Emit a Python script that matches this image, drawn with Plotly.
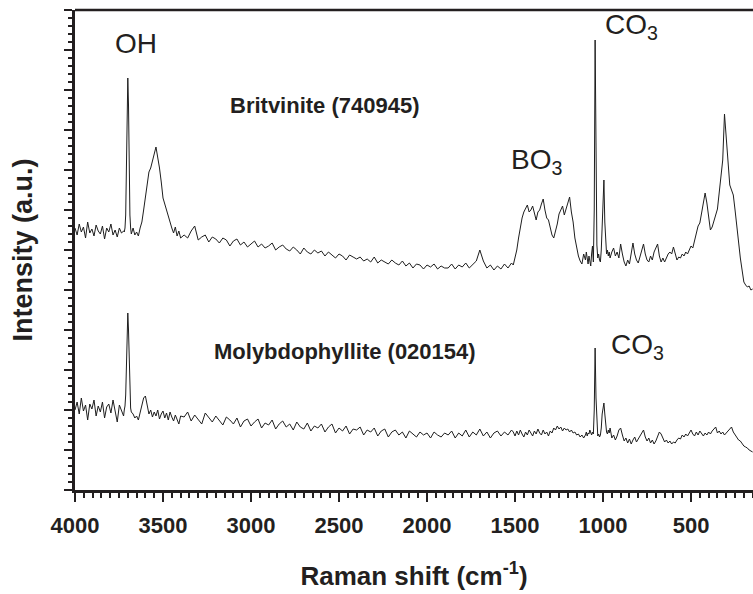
import plotly.graph_objects as go

# Raman shift (cm-1) sampling points shared by both spectra
WAVENUMBER = [
    4000, 3988, 3976, 3964, 3952, 3940, 3928, 3916, 3904, 3892, 3880, 3868,
    3856, 3844, 3832, 3820, 3808, 3796, 3784, 3772, 3760, 3748, 3736, 3724,
    3720, 3716, 3712, 3708, 3704, 3700, 3696, 3692, 3688, 3684, 3680,
    3670, 3660, 3650, 3640, 3630, 3620, 3610, 3600, 3590, 3580, 3570, 3560, 3550, 3540,
    3530, 3520, 3510, 3500, 3490, 3480, 3470, 3460, 3450, 3440, 3430, 3420, 3410, 3400,
    3380, 3360, 3340, 3320, 3300, 3280, 3260, 3240, 3220, 3200,
    3180, 3160, 3140, 3120, 3100, 3080, 3060, 3040, 3020, 3000,
    2980, 2960, 2940, 2920, 2900, 2880, 2860, 2840, 2820, 2800,
    2780, 2760, 2740, 2720, 2700, 2680, 2660, 2640, 2620, 2600,
    2580, 2560, 2540, 2520, 2500, 2480, 2460, 2440, 2420, 2400,
    2380, 2360, 2340, 2320, 2300, 2280, 2260, 2240, 2220, 2200,
    2180, 2160, 2140, 2120, 2100, 2080, 2060, 2040, 2020, 2000,
    1980, 1960, 1940, 1920, 1900,
    1880, 1860, 1840, 1820, 1800, 1780, 1760, 1740, 1720, 1700,
    1680, 1660, 1640, 1620, 1600, 1580, 1560, 1540, 1520,
    1510, 1500, 1490, 1480, 1470, 1460, 1450, 1440, 1430, 1420,
    1410, 1400, 1390, 1380, 1370, 1360, 1350, 1340, 1330, 1320,
    1310, 1300, 1290, 1280, 1270, 1260, 1250, 1240, 1230, 1220,
    1210, 1200, 1190, 1180, 1170, 1160, 1150, 1140, 1130, 1120,
    1110,
    1100, 1095, 1090, 1085, 1080, 1075, 1070, 1065, 1060, 1055,
    1050, 1045, 1040, 1035, 1030, 1025, 1020, 1015, 1010, 1005,
    1000, 995, 990, 985, 980, 975, 970, 965, 960,
    950, 940, 930, 920, 910, 900, 890, 880, 870, 860,
    850, 840, 830, 820, 810, 800, 790, 780, 770, 760,
    750, 740, 730, 720, 710, 700, 690, 680, 670, 660,
    650, 640, 630, 620, 610, 600, 590, 580, 570, 560,
    550, 540, 530, 520, 510, 500, 490, 480, 470, 460,
    450, 440, 430, 420, 410, 400, 390, 380, 370, 360,
    350, 340, 330, 320, 310, 300, 290, 280, 270, 260,
    250, 240, 230, 220, 210, 200, 190, 180, 170, 160,
    150,
]

# Britvinite (740945) intensity, arbitrary units
BRITVINITE = [
    262, 255, 266, 258, 263, 252, 268, 257, 261, 254, 265, 259,
    256, 264, 251, 262, 258, 266, 255, 260, 253, 262, 257, 259,
    258, 262, 275, 310, 380, 412, 385, 320, 275, 262, 256,
    262, 255, 258, 254, 262, 268, 280, 292, 308, 318, 322, 328, 336, 343,
    334, 322, 308, 292, 286, 280, 272, 266, 262, 257, 263, 254, 259, 252,
    255, 252, 259, 264, 250, 253, 255, 248, 253, 251,
    247, 252, 250, 244, 249, 251, 245, 248, 243, 246,
    249, 243, 246, 242, 244, 247, 240, 243, 245, 241,
    239, 243, 240, 236, 242, 238, 236, 240, 237, 239,
    234, 238, 235, 232, 236, 234, 230, 235, 233, 231,
    233, 229, 231, 228, 233, 227, 230, 228, 226, 230,
    227, 225, 229, 224, 227, 222, 226, 225, 221, 225,
    223, 226, 221, 224, 222,
    222, 226, 221, 225, 223, 227, 222, 226, 229, 240,
    229, 222, 225, 220, 224, 221, 226, 222, 227,
    225, 232, 240, 252, 263, 272, 278, 282, 285, 278,
    280, 284, 276, 270, 278, 280, 286, 291, 280, 272,
    270, 262, 255, 252, 258, 266, 276, 280, 284, 275,
    282, 288, 293, 278, 268, 252, 242, 234, 229, 226,
    236,
    230, 238, 232, 226, 234, 228, 224, 236, 244, 228,
    280, 450, 320, 245, 232, 236, 230, 228, 240, 262,
    295, 310, 268, 244, 236, 240, 234, 238, 232,
    238, 242, 234, 238, 232, 246, 236, 228, 224, 230,
    226, 236, 247, 236, 230, 227, 234, 240, 246, 236,
    230, 228, 234, 230, 238, 242, 246, 234, 228, 232,
    228, 232, 236, 238, 236, 243, 236, 230, 233, 232,
    236, 234, 238, 236, 240, 244, 242, 250, 257, 264,
    267, 277, 284, 297, 287, 273, 260, 263, 268, 275,
    281, 296, 312, 330, 376, 352, 325, 305, 300, 295,
    280, 264, 245, 232, 220, 208, 205, 203, 204, 200,
    201,
]

# Molybdophyllite (020154) intensity, arbitrary units
MOLYBDOPHYLLITE = [
    80, 88, 76, 92, 79, 85, 70, 86, 81, 90, 74, 84,
    78, 88, 72, 83, 86, 77, 90, 79, 68, 85, 80, 74,
    80, 84, 95, 125, 165, 177, 160, 120, 92, 82, 78,
    76, 72, 74, 70, 78, 84, 92, 94, 86, 76, 80, 73, 78, 74,
    80, 71, 76, 79, 72, 77, 70, 78, 73, 69, 75, 71, 66, 74,
    73, 78, 69, 75, 71, 66, 77, 72, 68, 74,
    70, 65, 73, 70, 66, 72, 63, 69, 71, 64,
    68, 71, 62, 67, 65, 70, 61, 66, 69, 63,
    66, 60, 68, 63, 61, 67, 59, 64, 62, 66,
    58, 63, 66, 57, 62, 59, 64, 56, 61, 60,
    63, 55, 60, 58, 62, 54, 59, 61, 53, 58,
    60, 55, 58, 52, 59, 56, 53, 58, 55, 57,
    52, 58, 55, 53, 57,
    55, 59, 52, 57, 54, 60, 53, 58, 55, 61,
    54, 58, 52, 57, 59, 54, 58, 55, 60,
    58, 54, 59, 55, 60, 56, 53, 58, 55, 60,
    57, 54, 59, 56, 61, 57, 55, 60, 56, 58,
    54, 59, 57, 62, 60, 64, 61, 63, 59, 62,
    60, 61, 58, 60, 57, 58, 55, 56, 53, 55,
    52,
    55, 58, 54, 57, 56, 60, 57, 55, 58, 56,
    80, 142, 92, 60, 54, 56, 53, 55, 62, 76,
    84, 87, 76, 64, 58, 56, 60, 57, 62,
    52, 55, 50, 54, 60, 62, 55, 49, 52, 47,
    51, 46, 50, 53, 48, 51, 55, 58, 60, 53,
    49, 52, 47, 50, 46, 49, 53, 58, 56, 51,
    48, 50, 47, 49, 46, 48, 47, 50, 52, 51,
    55, 53, 56, 54, 57, 60, 56, 54, 58, 55,
    59, 56, 54, 57, 55, 58, 56, 59, 61, 63,
    57, 59, 56, 58, 55, 57, 59, 61, 63, 58,
    55, 52, 50, 49, 46, 44, 43, 42, 40, 39,
    38,
]

assert len(WAVENUMBER) == len(BRITVINITE) == len(MOLYBDOPHYLLITE)

X_TICKS = [4000, 3500, 3000, 2500, 2000, 1500, 1000, 500]
X_RANGE = [4000, 148]
Y_RANGE = [0, 480]

# text labels: (text, x in cm-1, y in a.u., size, bold)
LABELS = [
    ("OH", 3655, 447, 28, False),
    ("BO<sub>3</sub>", 1378, 329, 28, False),
    ("CO<sub>3</sub>", 838, 464, 28, False),
    ("CO<sub>3</sub>", 805, 144, 28, False),
    ("Britvinite (740945)", 2580, 385, 22, True),
    ("Molybdophyllite (020154)", 2468, 139, 22, True),
]

FONT = "Arial, Liberation Sans, sans-serif"
INK = "#231f20"

fig = go.Figure()
for series in (BRITVINITE, MOLYBDOPHYLLITE):
    fig.add_trace(go.Scatter(
        x=WAVENUMBER, y=series, mode="lines",
        line=dict(color="#1e1e1e", width=1),
        showlegend=False, hoverinfo="skip",
    ))

for text, xv, yv, size, bold in LABELS:
    fig.add_annotation(
        x=xv, y=yv, xref="x", yref="y", text=text, showarrow=False,
        xanchor="center", yanchor="middle",
        font=dict(family=FONT, size=size, color=INK,
                  weight="bold" if bold else "normal"),
    )

fig.add_shape(type="line", xref="paper", yref="paper", x0=0, x1=1, y0=1, y1=1,
              line=dict(color=INK, width=2.5))

fig.update_layout(
    width=753, height=594,
    margin=dict(l=75, r=0, t=10, b=104),
    paper_bgcolor="white", plot_bgcolor="white",
    font=dict(family=FONT, color=INK),
    xaxis=dict(
        range=X_RANGE, tickvals=X_TICKS, ticktext=[str(v) for v in X_TICKS],
        ticks="outside", ticklen=9, tickwidth=2, tickcolor=INK,
        ticklabelstandoff=5,
        showline=True, linewidth=2.5, linecolor=INK,
        showgrid=False, zeroline=False,
        tickfont=dict(family=FONT, size=22, color=INK, weight="bold"),
        minor=dict(dtick=50, ticks="outside", ticklen=5, tickwidth=1.5,
                   tickcolor=INK, showgrid=False),
        title=dict(text="Raman shift (cm<sup>-1</sup>)", standoff=30,
                   font=dict(family=FONT, size=26, color=INK, weight="bold")),
    ),
    yaxis=dict(
        range=Y_RANGE, dtick=40, tick0=0,
        ticks="outside", ticklen=8, tickwidth=2, tickcolor=INK,
        showticklabels=False,
        showline=True, linewidth=2.5, linecolor=INK,
        showgrid=False, zeroline=False,
        minor=dict(dtick=8, ticks="outside", ticklen=4, tickwidth=1.5,
                   tickcolor=INK, showgrid=False),
        title=dict(text="Intensity (a.u.)", standoff=24,
                   font=dict(family=FONT, size=27, color=INK, weight="bold")),
    ),
)

fig.write_html("out.html",
               config={"displayModeBar": False},
               post_script="document.body.style.margin='0px';document.body.style.overflow='hidden';")
